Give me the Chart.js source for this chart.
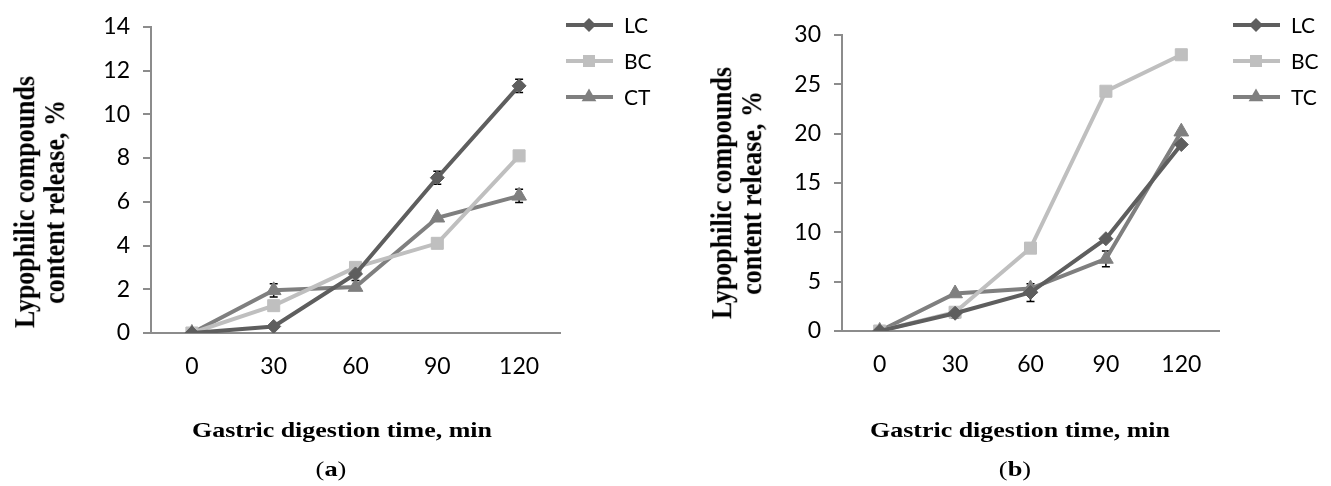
<!DOCTYPE html>
<html>
<head>
<meta charset="utf-8">
<script src="https://cdn.jsdelivr.net/npm/chart.js@4.4.0/dist/chart.umd.min.js"></script>
<style>
  body { margin: 0; background: #fff; width: 1331px; height: 486px; overflow: hidden; position: relative; font-family: 'Liberation Serif', serif; }
  .box { position: absolute; top: 0; height: 486px; }
  .ytitle { position: absolute; transform: translate(-50%, -50%) scaleX(1.1) rotate(-90deg); font-weight: bold; font-size: 26px; line-height: 27px; text-align: center; white-space: nowrap; color: #000; }
  .xtitle { position: absolute; transform: translate(-50%, -50%) scaleX(1.18); font-weight: bold; font-size: 22px; white-space: nowrap; color: #000; }
  .panel { position: absolute; transform: translate(-50%, -50%) scaleX(1.2); font-size: 22px; color: #000; }
</style>
</head>
<body>
<div class="box" style="left:0;width:660px"><canvas id="chartA"></canvas></div>
<div class="box" style="left:691px;width:640px"><canvas id="chartB"></canvas></div>

<div class="ytitle" style="left:40px;top:202px">Lypophilic compounds<br>content release, %</div>
<div class="ytitle" style="left:737px;top:193px">Lypophilic compounds<br>content release, %</div>
<div class="xtitle" style="left:342px;top:430px">Gastric digestion time, min</div>
<div class="xtitle" style="left:1020px;top:430px">Gastric digestion time, min</div>
<div class="panel" style="left:331px;top:469px">(<b>a</b>)</div>
<div class="panel" style="left:1015px;top:469px">(<b>b</b>)</div>

<script>
const times = ['0', '30', '60', '90', '120'];

// panel (a)
const lcA = [0, 0.3, 2.7, 7.1, 11.3];
const bcA = [0, 1.25, 3.0, 4.1, 8.1];
const ctA = [0, 1.95, 2.1, 5.27, 6.27];
const lcAErr = [0, 0, 0.3, 0.3, 0.3];
const bcAErr = [0, 0, 0, 0, 0];
const ctAErr = [0, 0.3, 0, 0, 0.3];

// panel (b)
const lcB = [0, 1.8, 3.9, 9.35, 18.9];
const bcB = [0, 1.9, 8.4, 24.3, 28.0];
const tcB = [0, 3.8, 4.3, 7.3, 20.2];
const lcBErr = [0, 0.5, 0.9, 0, 0];
const bcBErr = [0, 0, 0, 0, 0];
const tcBErr = [0, 0, 0, 0.8, 0];

const colLC = '#5e5e5e';
const colBC = '#bfbfbf';
const colCT = '#7f7f7f';
const axisCol = '#8c8c8c';
const tickFont = { family: 'Lato, "Open Sans", sans-serif', size: 23 };

function marker(ctx, style, r, x, y) {
    ctx.beginPath();
    if (style === 'rectRot') {
        ctx.moveTo(x, y - r); ctx.lineTo(x + r, y); ctx.lineTo(x, y + r); ctx.lineTo(x - r, y);
    } else if (style === 'rect') {
        const s = r * Math.SQRT1_2;
        ctx.rect(x - s, y - s, 2 * s, 2 * s);
    } else {
        ctx.moveTo(x, y - r);
        ctx.lineTo(x + r * 0.866, y + r * 0.5);
        ctx.lineTo(x - r * 0.866, y + r * 0.5);
    }
    ctx.closePath();
    ctx.fill();
}

// error bars, drawn under the markers
const errorBars = {
    id: 'errorBars',
    beforeDatasetsDraw(chart) {
        const ctx = chart.ctx;
        const ys = chart.scales.y;
        chart.data.datasets.forEach((ds, i) => {
            const meta = chart.getDatasetMeta(i);
            meta.data.forEach((pt, j) => {
                const e = ds.errors[j];
                if (!e) return;
                const top = ys.getPixelForValue(ds.data[j] + e);
                const bot = ys.getPixelForValue(ds.data[j] - e);
                ctx.save();
                ctx.strokeStyle = '#000';
                ctx.lineWidth = 1.5;
                ctx.beginPath();
                ctx.moveTo(pt.x, top); ctx.lineTo(pt.x, bot);
                ctx.moveTo(pt.x - 4, top); ctx.lineTo(pt.x + 4, top);
                ctx.moveTo(pt.x - 4, bot); ctx.lineTo(pt.x + 4, bot);
                ctx.stroke();
                ctx.restore();
            });
        });
    }
};

// legend with line + marker samples, like the original
const lineLegend = {
    id: 'lineLegend',
    afterDraw(chart, args, opts) {
        const ctx = chart.ctx;
        const x0 = chart.chartArea.right + opts.gap;
        chart.data.datasets.forEach((ds, i) => {
            const y = 25 + i * 36;
            ctx.save();
            ctx.strokeStyle = ds.borderColor;
            ctx.fillStyle = ds.borderColor;
            ctx.lineWidth = ds.borderWidth;
            ctx.beginPath();
            ctx.moveTo(x0, y);
            ctx.lineTo(x0 + 47, y);
            ctx.stroke();
            marker(ctx, ds.pointStyle, ds.pointRadius, x0 + 23, y);
            ctx.fillStyle = '#000';
            ctx.font = '21px Lato, sans-serif';
            ctx.textBaseline = 'middle';
            ctx.fillText(ds.label, x0 + 58, y + 1);
            ctx.restore();
        });
    }
};

function series(label, data, errors, color, style, radius) {
    return {
        label: label,
        data: data,
        errors: errors,
        borderColor: color,
        backgroundColor: color,
        pointBackgroundColor: color,
        pointBorderColor: color,
        pointBorderWidth: 1,
        borderWidth: 4,
        pointStyle: style,
        pointRadius: radius,
        tension: 0
    };
}

function makeChart(canvasId, datasets, yMax, yStep, padding, legendGap) {
    return new Chart(document.getElementById(canvasId), {
        type: 'line',
        data: { labels: times, datasets: datasets },
        options: {
            responsive: true,
            maintainAspectRatio: false,
            animation: false,
            layout: { padding: padding },
            plugins: {
                legend: { display: false },
                tooltip: { enabled: false },
                lineLegend: { gap: legendGap }
            },
            scales: {
                x: {
                    offset: true,
                    ticks: { color: '#000', font: tickFont, padding: 20, maxRotation: 0 },
                    grid: { drawOnChartArea: false, drawTicks: false, color: axisCol },
                    border: { color: axisCol, width: 2 },
                    afterFit: s => { s.height = 60; }
                },
                y: {
                    min: 0,
                    max: yMax,
                    ticks: { stepSize: yStep, color: '#000', font: tickFont, padding: 13 },
                    grid: { drawOnChartArea: false, drawTicks: true, tickLength: 8, color: axisCol, lineWidth: 2 },
                    border: { color: axisCol, width: 2 },
                    afterFit: s => { s.width = 151; }
                }
            }
        },
        plugins: [errorBars, lineLegend]
    });
}

makeChart('chartA', [
    series('LC', lcA, lcAErr, colLC, 'rectRot', 7),
    series('BC', bcA, bcAErr, colBC, 'rect', 8.5),
    series('CT', ctA, ctAErr, colCT, 'triangle', 8.5)
], 14, 2, { left: 0, top: 24, right: 100, bottom: 93 }, 6);

makeChart('chartB', [
    series('LC', lcB, lcBErr, colLC, 'rectRot', 7),
    series('BC', bcB, bcBErr, colBC, 'rect', 8.5),
    series('TC', tcB, tcBErr, colCT, 'triangle', 8.5)
], 30, 5, { left: 0, top: 35, right: 112, bottom: 95 }, 14);
</script>
</body>
</html>
